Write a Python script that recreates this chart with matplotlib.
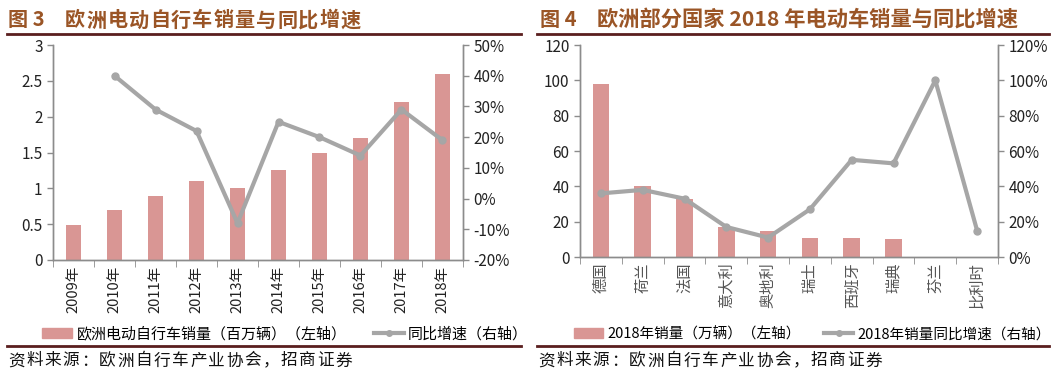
import numpy as np
import matplotlib
matplotlib.use("Agg")
import matplotlib.pyplot as plt
from matplotlib.lines import Line2D
from matplotlib.patches import Patch
from matplotlib.ticker import FuncFormatter

plt.rcParams['font.family'] = ['Noto Sans CJK SC', 'DejaVu Sans']

#+++ Data
years = ["2009年", "2010年", "2011年", "2012年", "2013年", "2014年", "2015年", "2016年", "2017年", "2018年"]
sales_eu = [0.49, 0.70, 0.90, 1.10, 1.00, 1.25, 1.50, 1.70, 2.20, 2.60]
growth_eu = [np.nan, 40, 29, 22, -8, 25, 20, 14, 29, 19]

countries = ["德国", "荷兰", "法国", "意大利", "奥地利", "瑞士", "西班牙", "瑞典", "芬兰", "比利时"]
sales_2018 = [98, 40, 33, 17, 15, 11, 11, 10, np.nan, np.nan]
growth_2018 = [36, 38, 33, 17, 11, 27, 55, 53, 100, 15]
#---

BAR = "#D99694"
LINE = "#A6A6A6"
SPINE = "#8C8C8C"
TITLE = "#9A5526"
RULE = "#5A1E1E"
W, H = 1056, 392

fig = plt.figure(figsize=(W / 100, H / 100), dpi=100)


def ax_px(x0, y0, x1, y1):
    return fig.add_axes([x0 / W, 1 - y1 / H, (x1 - x0) / W, (y1 - y0) / H])


def style(ax, ax2, n):
    for a in (ax, ax2):
        a.spines["top"].set_visible(False)
        for s in ("left", "right", "bottom"):
            a.spines[s].set_color(SPINE)
            a.spines[s].set_linewidth(1.0)
        a.tick_params(colors="#222222", labelsize=11, length=4, width=1, direction="out")
        a.tick_params(axis="y", color=SPINE)
    ax.set_xlim(-0.5, n - 0.5)
    ax.set_xticks(range(n))
    ax.set_xticks(np.arange(-0.5, n, 1.0), minor=True)
    ax.tick_params(axis="x", which="major", length=0, pad=4)
    ax.tick_params(axis="x", which="minor", length=5, color=SPINE)
    ax2.set_zorder(ax.get_zorder() + 1)
    ax2.patch.set_visible(False)


def rule(x0, x1, y):
    fig.add_artist(Line2D([x0 / W, x1 / W], [1 - y / H, 1 - y / H], color=RULE, lw=2))


def spaced(x, y, s, step, **kw):
    # the report typesets headings/sources with wide letter spacing
    for i, ch in enumerate(s):
        fig.text((x + i * step) / W, 1 - y / H, ch, va="center", **kw)


#+++ Left panel: 欧洲电动自行车销量
ax = ax_px(53, 45, 463, 260)
ax2 = ax.twinx()
x = np.arange(len(years))
ax.bar(x, sales_eu, width=0.37, color=BAR, zorder=2)
ax2.plot(x, growth_eu, color=LINE, lw=3, marker="o", ms=5, zorder=3)
ax.set_ylim(0, 3)
ax.set_yticks(np.arange(0, 3.01, 0.5))
ax.set_yticklabels(["0", "0.5", "1", "1.5", "2", "2.5", "3"])
ax2.set_ylim(-20, 50)
ax2.set_yticks(range(-20, 51, 10))
ax2.yaxis.set_major_formatter(FuncFormatter(lambda v, p: f"{v:.0f}%"))
style(ax, ax2, len(years))
ax.set_xticklabels(years, rotation=90, fontsize=10.5, va="top")

fig.text(8 / W, 1 - 20 / H, "图 3", fontsize=14.5, fontweight="bold", color=TITLE, va="center")
spaced(65, 20, "欧洲电动自行车销量与同比增速", 21.2, fontsize=14.5, fontweight="bold", color=TITLE)
rule(7, 521, 34)
rule(7, 521, 346)
spaced(8, 361, "资料来源：欧洲自行车产业协会，招商证券", 18.2, fontsize=12, color="#111111")
fig.legend(handles=[Patch(color=BAR, label="欧洲电动自行车销量（百万辆）（左轴）"),
                    Line2D([], [], color=LINE, lw=3, marker="o", ms=4, label="同比增速（右轴）")],
           loc="center left", bbox_to_anchor=(42 / W, 1 - 334 / H), ncol=2, frameon=False,
           fontsize=10.8, handlelength=2.0, handleheight=0.6, handletextpad=0.3, columnspacing=1.8,
           borderaxespad=0, borderpad=0)
#---

#+++ Right panel: 欧洲部分国家2018年电动车销量
bx = ax_px(580, 45, 998, 257)
bx2 = bx.twinx()
xc = np.arange(len(countries))
bx.bar(xc, sales_2018, width=0.4, color=BAR, zorder=2)
bx2.plot(xc, growth_2018, color=LINE, lw=3, marker="o", ms=5, zorder=3)
bx.set_ylim(0, 120)
bx.set_yticks(range(0, 121, 20))
bx2.set_ylim(0, 120)
bx2.set_yticks(range(0, 121, 20))
bx2.yaxis.set_major_formatter(FuncFormatter(lambda v, p: f"{v:.0f}%"))
style(bx, bx2, len(countries))
bx.set_xticklabels(countries, rotation=90, fontsize=11, va="top", color="#555555")

fig.text(540 / W, 1 - 20 / H, "图 4", fontsize=14.5, fontweight="bold", color=TITLE, va="center")
fig.text(597 / W, 1 - 20 / H, "欧洲部分国家 2018 年电动车销量与同比增速", fontsize=15.3,
         fontweight="bold", color=TITLE, va="center")
rule(537, 1049, 34)
rule(537, 1049, 346)
spaced(538, 361, "资料来源：欧洲自行车产业协会，招商证券", 18.2, fontsize=12, color="#111111")
fig.legend(handles=[Patch(color=BAR, label="2018年销量（万辆）（左轴）"),
                    Line2D([], [], color=LINE, lw=3, marker="o", ms=4, label="2018年销量同比增速（右轴）")],
           loc="center left", bbox_to_anchor=(574 / W, 1 - 334 / H), ncol=2, frameon=False,
           fontsize=10.5, handlelength=2.0, handleheight=0.6, handletextpad=0.3, columnspacing=1.6,
           borderaxespad=0, borderpad=0)
#---

fig.savefig("out.png", dpi=100)
